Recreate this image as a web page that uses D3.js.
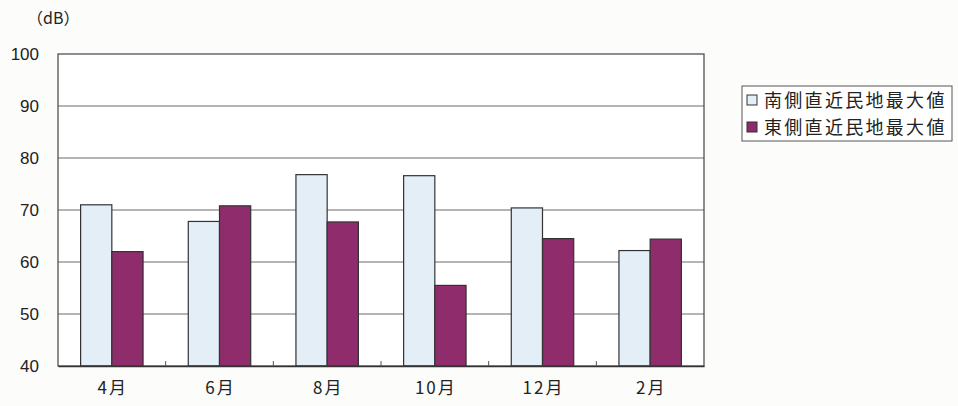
<!DOCTYPE html>
<html>
<head>
<meta charset="utf-8">
<script src="https://cdn.jsdelivr.net/npm/d3@7"></script>
<style>
  html, body { margin: 0; padding: 0; background: #fcfcfa; }
  svg { display: block; }
  text { font-family: "Liberation Sans", Arial, "Noto Sans CJK JP", sans-serif; fill: #222; }
  .jp { font-family: "Noto Sans CJK JP", sans-serif; }
</style>
</head>
<body>
<svg id="chart" width="958" height="406"></svg>
<script>
// Monthly maximum noise level at the nearest residential boundary (dB)
const months = ["4月", "6月", "8月", "10月", "12月", "2月"];
const seriesNames = ["南側直近民地最大値", "東側直近民地最大値"];
const southMax = [71.0, 67.8, 76.8, 76.6, 70.4, 62.2];
const eastMax  = [62.0, 70.8, 67.7, 55.5, 64.5, 64.4];
const yTicks = [40, 50, 60, 70, 80, 90, 100];
const unitLabel = "（dB）";

const seriesValues = [southMax, eastMax];
const colors = ["#e3eef6", "#8e2c6c"];

const svg = d3.select("#chart");
const plot = { left: 58, right: 704, top: 54, bottom: 366 };

const x0 = d3.scaleBand().domain(months).range([plot.left, plot.right]).paddingInner(0.42).paddingOuter(0.21);
const x1 = d3.scaleBand().domain(d3.range(seriesNames.length)).range([0, x0.bandwidth()]);
const y = d3.scaleLinear().domain([40, 100]).range([plot.bottom, plot.top]);

// plot area
svg.append("rect")
  .attr("x", plot.left).attr("y", plot.top)
  .attr("width", plot.right - plot.left).attr("height", plot.bottom - plot.top)
  .attr("fill", "#ffffff");

// horizontal gridlines
svg.append("g").selectAll("line")
  .data(yTicks.filter(t => t > 40 && t < 100))
  .join("line")
  .attr("x1", plot.left).attr("x2", plot.right)
  .attr("y1", d => y(d)).attr("y2", d => y(d))
  .attr("stroke", "#6a6a6a").attr("stroke-width", 1);

// y axis labels
const yAxis = d3.axisLeft(y).tickValues(yTicks).tickSize(0).tickPadding(19);
svg.append("g")
  .attr("transform", `translate(${plot.left},0)`)
  .call(yAxis)
  .call(g => g.select(".domain").remove())
  .call(g => g.selectAll("text").attr("font-size", 17).style("font-family", "Liberation Sans, Arial, sans-serif").attr("fill", "#222"));

svg.append("text")
  .attr("class", "jp")
  .attr("x", 27).attr("y", 24)
  .attr("font-size", 16)
  .text(unitLabel);

// bars
const groups = svg.append("g").selectAll("g")
  .data(months)
  .join("g")
  .attr("transform", d => `translate(${x0(d)},0)`);

groups.selectAll("rect")
  .data((m, i) => seriesValues.map((vals, s) => ({ s, v: vals[i] })))
  .join("rect")
  .attr("x", d => x1(d.s))
  .attr("y", d => y(d.v))
  .attr("width", x1.bandwidth())
  .attr("height", d => y(40) - y(d.v))
  .attr("fill", d => colors[d.s])
  .attr("stroke", "#333")
  .attr("stroke-width", 1.2);

// plot frame
svg.append("rect")
  .attr("x", plot.left).attr("y", plot.top)
  .attr("width", plot.right - plot.left).attr("height", plot.bottom - plot.top)
  .attr("fill", "none").attr("stroke", "#444").attr("stroke-width", 1.2);

// x axis with inward ticks at category boundaries
const xAxis = d3.axisBottom(x0).tickSize(0).tickPadding(16);
svg.append("g")
  .attr("transform", `translate(0,${plot.bottom})`)
  .call(xAxis)
  .call(g => g.select(".domain").attr("stroke", "#333").attr("stroke-width", 1.5))
  .call(g => g.selectAll("text").attr("font-size", 17).attr("letter-spacing", 2).attr("dx", 1).attr("class", "jp").attr("fill", "#222"));

const step = x0.step();
svg.append("g").selectAll("line")
  .data(d3.range(1, months.length))
  .join("line")
  .attr("x1", i => plot.left + i * step).attr("x2", i => plot.left + i * step)
  .attr("y1", plot.bottom).attr("y2", plot.bottom - 5)
  .attr("stroke", "#555");

// legend
const legend = svg.append("g").attr("transform", "translate(742,86)");
legend.append("rect")
  .attr("width", 210).attr("height", 55)
  .attr("fill", "#ffffff").attr("stroke", "#555").attr("stroke-width", 1);
seriesNames.forEach((name, i) => {
  const row = legend.append("g").attr("transform", `translate(5,${14 + i * 27})`);
  row.append("rect")
    .attr("x", 0).attr("y", -5).attr("width", 10).attr("height", 10)
    .attr("fill", colors[i]).attr("stroke", "#333").attr("stroke-width", 1);
  row.append("text")
    .attr("class", "jp")
    .attr("x", 17).attr("y", 7)
    .attr("font-size", 18)
    .attr("letter-spacing", 2.3)
    .text(name);
});
</script>
</body>
</html>
